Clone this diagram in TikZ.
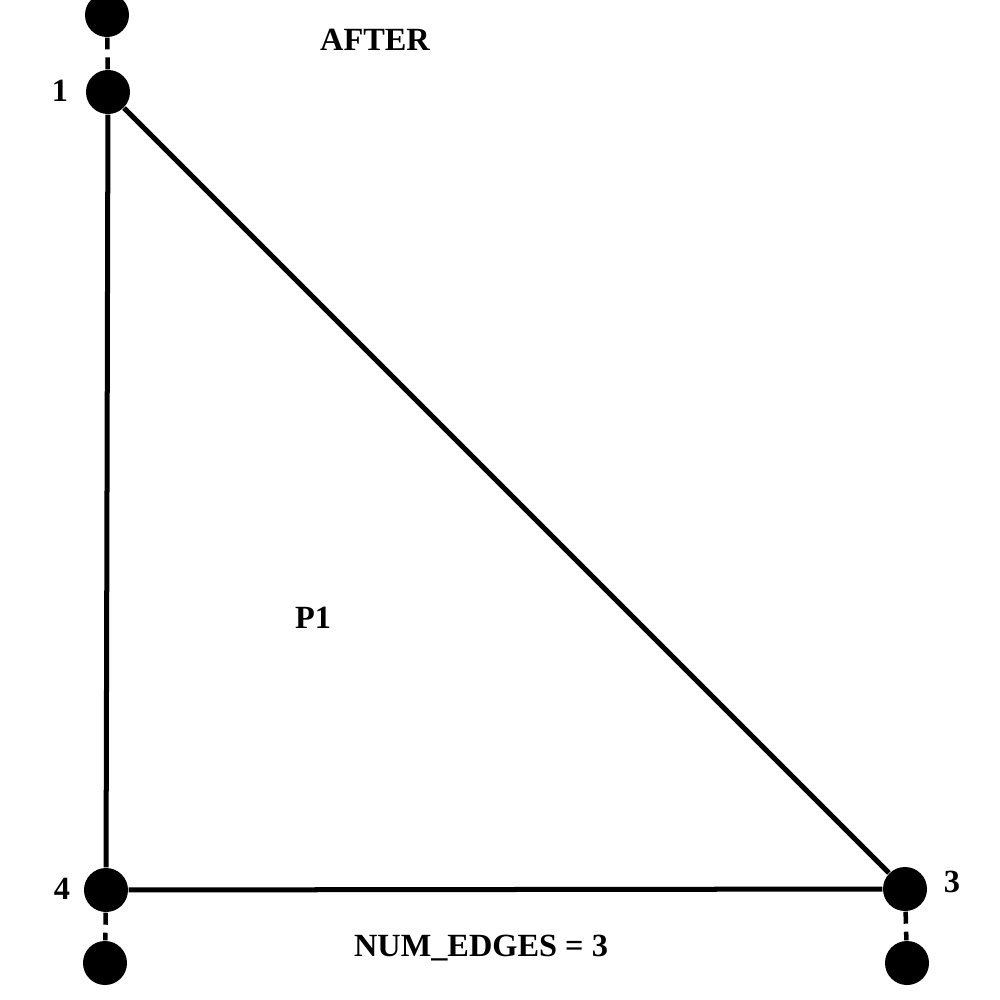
\documentclass[tikz,border=0pt]{standalone}
\usepackage{fontspec}
\setmainfont{Liberation Serif}
\begin{document}
\begin{tikzpicture}[x=0.01cm,y=-0.01cm,
  vert/.style={circle,fill=black,inner sep=0pt,minimum size=0.44cm},
  edge/.style={line width=0.05cm},
  ghost/.style={line width=0.045cm,dash pattern=on 0.12cm off 0.08cm},
  lbl/.style={font=\bfseries\fontsize{9.2}{11}\selectfont}]
\useasboundingbox (0,0) rectangle (1000,1000);
\node[vert] (n1) at (108,92) {};
\node[vert] (n4) at (106,890) {};
\node[vert] (n3) at (905,889) {};
\node[vert] (t1) at (107,15) {};
\node[vert] (b4) at (105,963) {};
\node[vert] (b3) at (907,963) {};
\draw[edge] (n1) -- (n3);
\draw[edge] (n1) -- (n4);
\draw[edge] (n4) -- (n3);
\draw[ghost] (n1) -- (t1);
\draw[ghost] (n4) -- (b4);
\draw[ghost] (n3) -- (b3);
\node[lbl] (l1) at (60,91) {1};
\node[lbl] (l4) at (62,889) {4};
\node[lbl] (l3) at (952,882) {3};
\node[lbl] (after) at (375,40) {AFTER};
\node[lbl] (p1) at (313,618) {P1};
\node[lbl] (ne) at (481,948) {NUM\_EDGES = 3};
\end{tikzpicture}
\end{document}
